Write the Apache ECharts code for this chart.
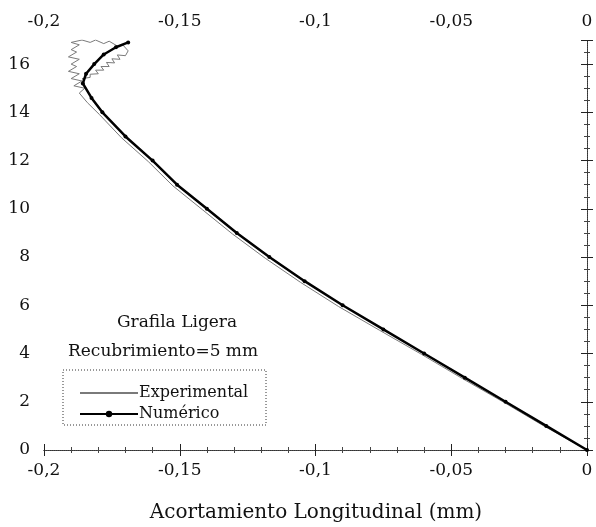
<!DOCTYPE html>
<html>
<head>
<meta charset="utf-8">
<script src="https://cdn.jsdelivr.net/npm/echarts@6/dist/echarts.min.js"></script>
<style>
  html, body { margin: 0; padding: 0; background: #fff; }
  #chart { width: 596px; height: 527px; }
</style>
</head>
<body>
<div id="chart"></div>
<script>
// ---------- data ----------
// Numérico (thick black curve)
var numX = [0, -0.015, -0.030, -0.045, -0.060, -0.075, -0.090, -0.104, -0.117, -0.129,
  -0.140, -0.151, -0.160, -0.170, -0.1785, -0.1825, -0.1857, -0.1845, -0.1815, -0.178,
  -0.1735, -0.169];
var numY = [0, 1, 2, 3, 4, 5, 6, 7, 8, 9,
  10, 11, 12, 13, 14, 14.6, 15.2, 15.6, 16, 16.4,
  16.7, 16.9];

// Experimental (thin grey, noisy near the top)
var expX = [0, -0.0155, -0.0305, -0.046, -0.061, -0.0765, -0.0915, -0.1055, -0.1185, -0.1305,
  -0.1415, -0.1525, -0.1615, -0.1715, -0.1795, -0.184, -0.187, -0.185, -0.189, -0.186,
  -0.190, -0.187, -0.191, -0.188, -0.190, -0.187, -0.191, -0.188, -0.190, -0.187,
  -0.190, -0.186, -0.183, -0.181, -0.178, -0.176, -0.173, -0.171, -0.169, -0.170,
  -0.173, -0.172, -0.175, -0.174, -0.177, -0.176, -0.179, -0.178, -0.181, -0.180,
  -0.183, -0.183, -0.186, -0.185];
var expY = [0, 0.97, 1.97, 2.97, 3.97, 4.97, 5.95, 6.95, 7.95, 8.95,
  9.95, 10.95, 11.95, 12.95, 13.9, 14.4, 14.8, 15.0, 15.1, 15.3,
  15.4, 15.6, 15.7, 15.9, 16.0, 16.2, 16.3, 16.5, 16.6, 16.8,
  16.9, 17.0, 16.9, 17.0, 16.85, 16.95, 16.75, 16.8, 16.55, 16.35,
  16.38, 16.2, 16.22, 16.05, 16.07, 15.9, 15.9, 15.75, 15.75, 15.6,
  15.58, 15.45, 15.4, 15.3];

var xTicks = [-0.2, -0.15, -0.1, -0.05, 0];
var yTicks = [0, 2, 4, 6, 8, 10, 12, 14, 16];

var notes = ['Grafila Ligera', 'Recubrimiento=5 mm'];
var xTitle = 'Acortamiento Longitudinal (mm)';

// ---------- helpers ----------
var FONT = 'DejaVu Serif';
function pairs(xs, ys) {
  return xs.map(function (x, i) { return [x, ys[i]]; });
}
function fmtX(v) {
  var r = +v.toFixed(2);
  if (xTicks.indexOf(r) < 0) return '';
  return String(r).replace('.', ',');
}
function fmtY(v) {
  return yTicks.indexOf(v) < 0 ? '' : String(v);
}

var axisLine = { show: true, lineStyle: { color: '#333', width: 1, type: 'dotted' } };
var tick = { show: true, inside: true, length: 6, lineStyle: { color: '#222' } };
var minor = { show: true, splitNumber: 5, length: 3, lineStyle: { color: '#444' } };

function xAx(pos, margin) {
  return {
    type: 'value', position: pos, min: -0.2, max: 0, interval: 0.05,
    axisLine: axisLine, axisTick: tick, minorTick: minor,
    splitLine: { show: false },
    axisLabel: {
      formatter: fmtX, color: '#111', fontFamily: FONT, fontSize: 17, margin: margin
    }
  };
}
function yAx(pos, labels) {
  return {
    type: 'value', position: pos, min: 0, max: 17, interval: 2,
    axisLine: axisLine, axisTick: tick,
    minorTick: { show: true, splitNumber: 4, length: 3, lineStyle: { color: '#444' } },
    splitLine: { show: false },
    axisLabel: {
      show: labels, formatter: fmtY, color: '#111', fontFamily: FONT, fontSize: 17,
      margin: 14, showMaxLabel: false
    }
  };
}

var chart = echarts.init(document.getElementById('chart'), null, { renderer: 'canvas' });
chart.setOption({
  animation: false,
  backgroundColor: '#fff',
  grid: { left: 44, right: 9, top: 40, bottom: 77 },
  xAxis: [xAx('bottom', 12), xAx('top', 10)],
  yAxis: [yAx('left', true), yAx('right', false)],
  legend: {
    left: 74, top: 380, orient: 'vertical', itemWidth: 58, itemHeight: 8, itemGap: 5,
    textStyle: { fontFamily: FONT, fontSize: 16, color: '#111', padding: [0, 0, 0, -4] },
    data: [
      { name: 'Experimental', itemStyle: { opacity: 0 } },
      { name: 'Numérico' }
    ]
  },
  series: [
    {
      name: 'Experimental', type: 'line', data: pairs(expX, expY),
      symbol: 'none', lineStyle: { color: '#7a7a7a', width: 1 }, itemStyle: { color: '#7a7a7a' },
      z: 2
    },
    {
      name: 'Numérico', type: 'line', data: pairs(numX, numY),
      symbol: 'circle', symbolSize: 4, showSymbol: true,
      lineStyle: { color: '#000', width: 2.5 }, itemStyle: { color: '#000' },
      z: 3
    }
  ],
  graphic: [
    {
      type: 'text', left: 117, top: 314,
      style: { text: notes[0], font: '17px "DejaVu Serif"', fill: '#111' }
    },
    {
      type: 'text', left: 68, top: 343,
      style: { text: notes[1], font: '17px "DejaVu Serif"', fill: '#111' }
    },
    {
      type: 'rect', shape: { x: 63, y: 370, width: 203, height: 55 },
      style: { fill: 'none', stroke: '#333', lineWidth: 1, lineDash: [1, 2] }
    },
    {
      type: 'text', x: 316, y: 503,
      style: { text: xTitle, font: '20px "DejaVu Serif"', fill: '#111', align: 'center' }
    }
  ]
});
</script>
</body>
</html>
